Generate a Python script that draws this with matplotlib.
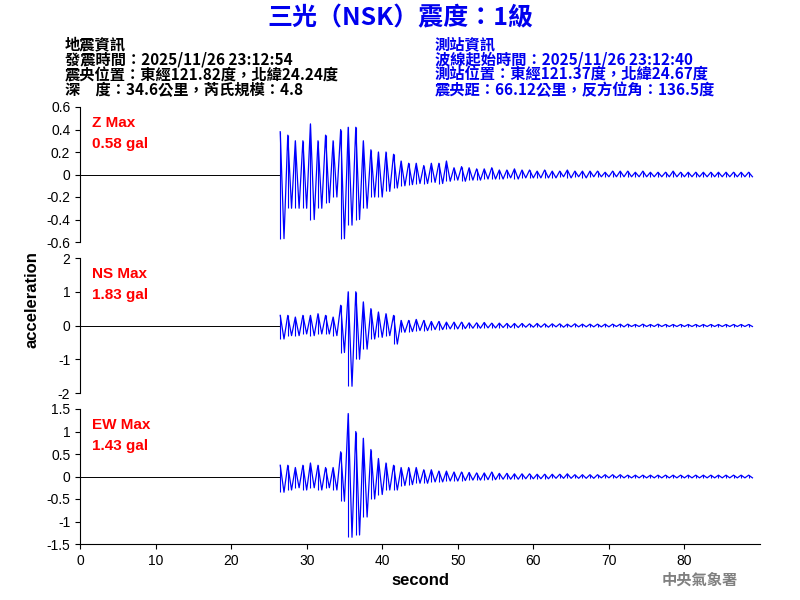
import matplotlib
matplotlib.use("Agg")
import matplotlib.pyplot as plt
import numpy as np

plt.rcParams['font.family'] = ['Noto Sans CJK TC', 'DejaVu Sans']

seconds = list(range(27, 90))
z_max = [0.38,0.35,0.30,0.30,0.45,0.30,0.35,0.30,0.40,0.42,0.42,0.30,0.22,0.20,0.20,0.18,0.12,0.10,0.10,0.08,0.10,0.10,0.12,0.06,
         0.07,0.06,0.05,0.05,0.06,0.04,0.04,0.05,0.04,0.04,0.03,0.04,0.03,0.03,0.04,0.03,0.03,0.03,0.03,0.02,0.03,0.03,0.03,0.02,
         0.03,0.02,0.02,0.02,0.03,0.02,0.02,0.02,0.02,0.02,0.02,0.02,0.02,0.02,0.02]
z_min = [-0.57,-0.30,-0.30,-0.30,-0.40,-0.30,-0.25,-0.20,-0.57,-0.45,-0.40,-0.30,-0.20,-0.20,-0.15,-0.12,-0.10,-0.09,-0.08,-0.08,-0.07,-0.08,-0.06,-0.05,
         -0.06,-0.05,-0.05,-0.04,-0.04,-0.04,-0.03,-0.04,-0.03,-0.03,-0.03,-0.03,-0.03,-0.02,-0.03,-0.02,-0.03,-0.02,-0.02,-0.02,-0.02,-0.02,-0.02,-0.02,
         -0.02,-0.02,-0.02,-0.02,-0.02,-0.02,-0.02,-0.02,-0.02,-0.02,-0.02,-0.02,-0.02,-0.02,-0.02]
ns_max = [0.30,0.30,0.25,0.30,0.30,0.35,0.30,0.25,0.60,1.00,1.00,0.70,0.50,0.40,0.35,0.30,0.15,0.15,0.18,0.15,0.12,0.12,0.10,0.10,
          0.10,0.08,0.08,0.09,0.07,0.07,0.06,0.06,0.06,0.05,0.06,0.05,0.05,0.05,0.04,0.05,0.04,0.04,0.04,0.04,0.04,0.04,0.04,0.03,
          0.04,0.03,0.04,0.03,0.03,0.03,0.03,0.03,0.03,0.03,0.03,0.03,0.03,0.03,0.03]
ns_min = [-0.40,-0.30,-0.30,-0.25,-0.30,-0.25,-0.25,-0.30,-0.80,-1.80,-1.00,-0.70,-0.40,-0.35,-0.30,-0.55,-0.20,-0.18,-0.15,-0.15,-0.12,-0.12,-0.10,-0.10,
          -0.09,-0.08,-0.08,-0.07,-0.07,-0.06,-0.06,-0.06,-0.05,-0.05,-0.05,-0.05,-0.04,-0.05,-0.04,-0.04,-0.04,-0.04,-0.04,-0.04,-0.03,-0.04,-0.03,-0.03,
          -0.03,-0.03,-0.03,-0.03,-0.03,-0.03,-0.03,-0.03,-0.03,-0.03,-0.03,-0.03,-0.03,-0.03,-0.03]
ew_max = [0.25,0.25,0.20,0.25,0.30,0.25,0.20,0.20,0.55,1.40,1.00,0.85,0.60,0.40,0.30,0.25,0.20,0.20,0.20,0.15,0.15,0.12,0.12,0.10,
          0.10,0.09,0.08,0.08,0.10,0.07,0.07,0.06,0.06,0.06,0.05,0.05,0.05,0.05,0.06,0.04,0.04,0.04,0.04,0.04,0.04,0.04,0.03,0.03,
          0.03,0.03,0.03,0.03,0.03,0.03,0.03,0.03,0.03,0.03,0.03,0.03,0.03,0.03,0.03]
ew_min = [-0.35,-0.30,-0.25,-0.30,-0.25,-0.30,-0.25,-0.30,-0.55,-1.35,-1.30,-0.90,-0.50,-0.40,-0.30,-0.30,-0.20,-0.18,-0.15,-0.15,-0.12,-0.12,-0.10,-0.10,
          -0.09,-0.08,-0.08,-0.07,-0.07,-0.06,-0.06,-0.06,-0.05,-0.05,-0.05,-0.05,-0.04,-0.04,-0.04,-0.04,-0.04,-0.04,-0.03,-0.03,-0.03,-0.03,-0.03,-0.03,
          -0.03,-0.03,-0.03,-0.03,-0.03,-0.03,-0.03,-0.03,-0.03,-0.03,-0.03,-0.03,-0.03,-0.03,-0.03]

panels = [("Z Max", "0.58 gal", z_max, z_min, 0.6, [-0.6,-0.4,-0.2,0,0.2,0.4,0.6], ["-0.6","-0.4","-0.2","0","0.2","0.4","0.6"]),
          ("NS Max", "1.83 gal", ns_max, ns_min, 2, [-2,-1,0,1,2], ["-2","-1","0","1","2"]),
          ("EW Max", "1.43 gal", ew_max, ew_min, 1.5, [-1.5,-1,-0.5,0,0.5,1,1.5], ["-1.5","-1","-0.5","0","0.5","1","1.5"])]

fig = plt.figure(figsize=(8, 6), dpi=100)
tops = [107, 258, 409]
for (lab, val, mx, mn, lim, ticks, tl), top in zip(panels, tops):
    ax = fig.add_axes([80/800, 1-(top+135)/600, 680/800, 135/600])
    t = []; y = []
    for s, a, b in zip(seconds, mx, mn):
        t += [s - 0.5, s]
        y += [a, b]
    ax.plot([0, 26.5], [0, 0], color='black', lw=0.7)
    ax.plot(t, y, color='blue', lw=0.9)
    ax.vlines([s - 0.5 for s in seconds], mn, mx, color='blue', lw=0.8)
    ax.set_xlim(0, 90)
    ax.set_ylim(-lim, lim)
    ax.set_yticks(ticks); ax.set_yticklabels(tl, fontsize=10, family=['Liberation Sans'])
    for sp in ['top', 'right']:
        ax.spines[sp].set_visible(False)
    ax.text(0.018, 0.93, lab, transform=ax.transAxes, color='red', fontsize=11, fontweight='bold', family=['Liberation Sans'], va='top')
    ax.text(0.018, 0.78, val, transform=ax.transAxes, color='red', fontsize=11, fontweight='bold', family=['Liberation Sans'], va='top')
    if top != 409:
        ax.spines['bottom'].set_visible(False)
        ax.set_xticks([])
    else:
        ax.set_xticks(range(0, 90, 10))
        ax.set_xticklabels([str(v) for v in range(0, 90, 10)], fontsize=10, family=['Liberation Sans'])
        ax.set_xlabel("second", fontsize=12, fontweight='bold', family=['Liberation Sans'])

fig.text(32/800, 1-300/600, "acceleration", rotation=90, ha='center', va='center', fontsize=12, fontweight='bold', family=['Liberation Sans'])
fig.text(0.5, 1-18/600, "三光（NSK）震度：1級", ha='center', va='center', color='#0000ee', fontsize=18, fontweight='bold')
left = ["地震資訊", "發震時間：2025/11/26 23:12:54", "震央位置：東經121.82度，北緯24.24度", "深　度：34.6公里，芮氏規模：4.8"]
right = ["測站資訊", "波線起始時間：2025/11/26 23:12:40", "測站位置：東經121.37度，北緯24.67度", "震央距：66.12公里，反方位角：136.5度"]
for i, (l, r) in enumerate(zip(left, right)):
    yy = 1 - (44 + i * 15.5) / 600
    fig.text(65/800, yy, l, va='center', fontsize=11, color='black', fontweight='bold')
    fig.text(435/800, yy, r, va='center', fontsize=11, color='#0000ee', fontweight='bold')
fig.text(700/800, 1-580/600, "中央氣象署", ha='center', va='center', color='gray', fontsize=11, fontweight='bold')
fig.savefig("out.png")
